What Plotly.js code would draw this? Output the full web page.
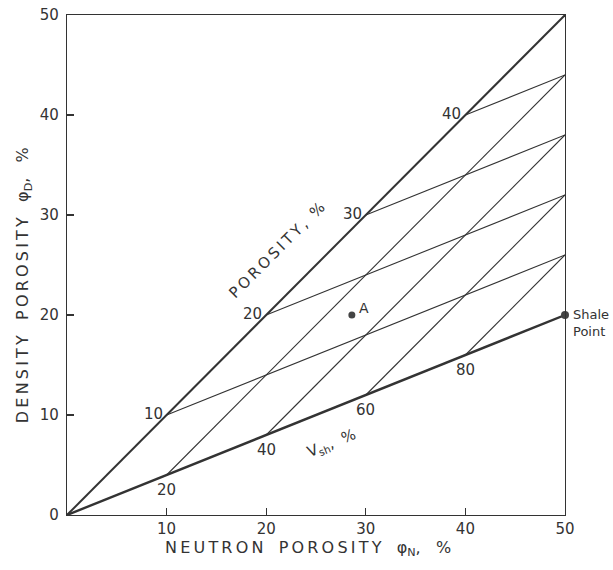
<!DOCTYPE html>
<html>
<head>
<meta charset="utf-8">
<script src="https://cdn.plot.ly/plotly-3.0.1.min.js"></script>
<style>body{margin:0;background:#fff;}#chart{width:613px;height:570px;}</style>
</head>
<body>
<div id="chart"></div>
<script>
// ---- data ----
const cleanLineX = [0, 50];
const cleanLineY = [0, 50];
const shaleLineX = [0, 50];
const shaleLineY = [0, 20];
const porosityLevels = [10, 20, 30, 40];      // start on clean line (x = y = level)
const porosityEndY = [26, 32, 38, 44];        // end at x = 50
const vshLevels = [20, 40, 60, 80];
const vshStartX = [10, 20, 30, 40];           // start on shale line
const vshStartY = [4, 8, 12, 16];
const vshEndY = [44, 38, 32, 26];             // end at x = 50
const pointAX = [28.6];
const pointAY = [20];
const shalePointX = [50];
const shalePointY = [20];
const xTicks = [10, 20, 30, 40, 50];
const yTicks = [0, 10, 20, 30, 40, 50];

const ink = '#333';
const font = 'DejaVu Sans, sans-serif';
const spaced = s => s.split('').join('\u2009');
const traces = [];

traces.push({x: cleanLineX, y: cleanLineY, mode: 'lines', line: {color: ink, width: 2}, hoverinfo: 'skip'});
traces.push({x: shaleLineX, y: shaleLineY, mode: 'lines', line: {color: ink, width: 2.4}, hoverinfo: 'skip'});
porosityLevels.forEach((p, i) => {
  traces.push({x: [p, 50], y: [p, porosityEndY[i]], mode: 'lines', line: {color: ink, width: 1.1}, hoverinfo: 'skip'});
});
vshLevels.forEach((v, i) => {
  traces.push({x: [vshStartX[i], 50], y: [vshStartY[i], vshEndY[i]], mode: 'lines', line: {color: ink, width: 1.1}, hoverinfo: 'skip'});
});
traces.push({x: pointAX, y: pointAY, mode: 'markers', marker: {color: '#444', size: 7}, cliponaxis: false});
traces.push({x: shalePointX, y: shalePointY, mode: 'markers', marker: {color: '#444', size: 8}, cliponaxis: false});

const annotations = [];
const tf = {family: font, size: 15, color: ink};
porosityLevels.forEach(p => {
  annotations.push({x: p, y: p, text: String(p), showarrow: false, xanchor: 'right', yanchor: 'middle', xshift: -2, yshift: 1, font: tf});
});
vshLevels.forEach((v, i) => {
  annotations.push({x: vshStartX[i], y: vshStartY[i], text: String(v), showarrow: false, xanchor: 'center', yanchor: 'top', yshift: -4, font: tf});
});
annotations.push({x: pointAX[0], y: pointAY[0], text: 'A', showarrow: false, xanchor: 'left', yanchor: 'bottom', xshift: 5, yshift: -3, font: {family: font, size: 14, color: ink}});
annotations.push({x: shalePointX[0], y: shalePointY[0], text: 'Shale<br>Point', showarrow: false, xanchor: 'left', yanchor: 'top', xshift: 6, yshift: 10, align: 'left', font: {family: font, size: 13, color: ink}});
annotations.push({x: 21.1, y: 26.5, text: spaced('POROSITY,') + '  %', showarrow: false, textangle: -45, xanchor: 'center', yanchor: 'middle', font: {family: font, size: 15, color: ink}});
annotations.push({x: 26.6, y: 7.2, text: 'V<sub>sh</sub>,  %', showarrow: false, textangle: -22, xanchor: 'center', yanchor: 'middle', font: {family: font, size: 15, color: ink}});
annotations.push({xref: 'paper', yref: 'paper', x: 0.484, y: -0.066, xanchor: 'center', yanchor: 'middle',
  text: spaced('NEUTRON') + '   ' + spaced('POROSITY') + '   φ<sub>N</sub>,   %', showarrow: false, font: {family: font, size: 16, color: ink}});
annotations.push({xref: 'paper', yref: 'paper', x: -0.088, y: 0.46, xanchor: 'center', yanchor: 'middle',
  text: spaced('DENSITY') + '   ' + spaced('POROSITY') + '   φ<sub>D</sub>,   %', showarrow: false, textangle: -90, font: {family: font, size: 16, color: ink}});

const axisCommon = {
  range: [0, 50], showgrid: false, zeroline: false, showline: true, linecolor: ink, linewidth: 1.2,
  mirror: true, ticks: 'inside', ticklen: 7, tickcolor: ink, tickwidth: 1.2,
  tickfont: {family: font, size: 15, color: ink}, fixedrange: true
};

const layout = {
  width: 613, height: 570,
  margin: {l: 67, r: 48, t: 15, b: 55},
  paper_bgcolor: '#fff', plot_bgcolor: '#fff',
  showlegend: false,
  xaxis: Object.assign({}, axisCommon, {tickmode: 'array', tickvals: xTicks, ticktext: xTicks.map(String)}),
  yaxis: Object.assign({}, axisCommon, {tickmode: 'array', tickvals: yTicks, ticktext: yTicks.map(String), ticklabelstandoff: 4}),
  annotations: annotations
};

Plotly.newPlot('chart', traces, layout, {staticPlot: true});
</script>
</body>
</html>
